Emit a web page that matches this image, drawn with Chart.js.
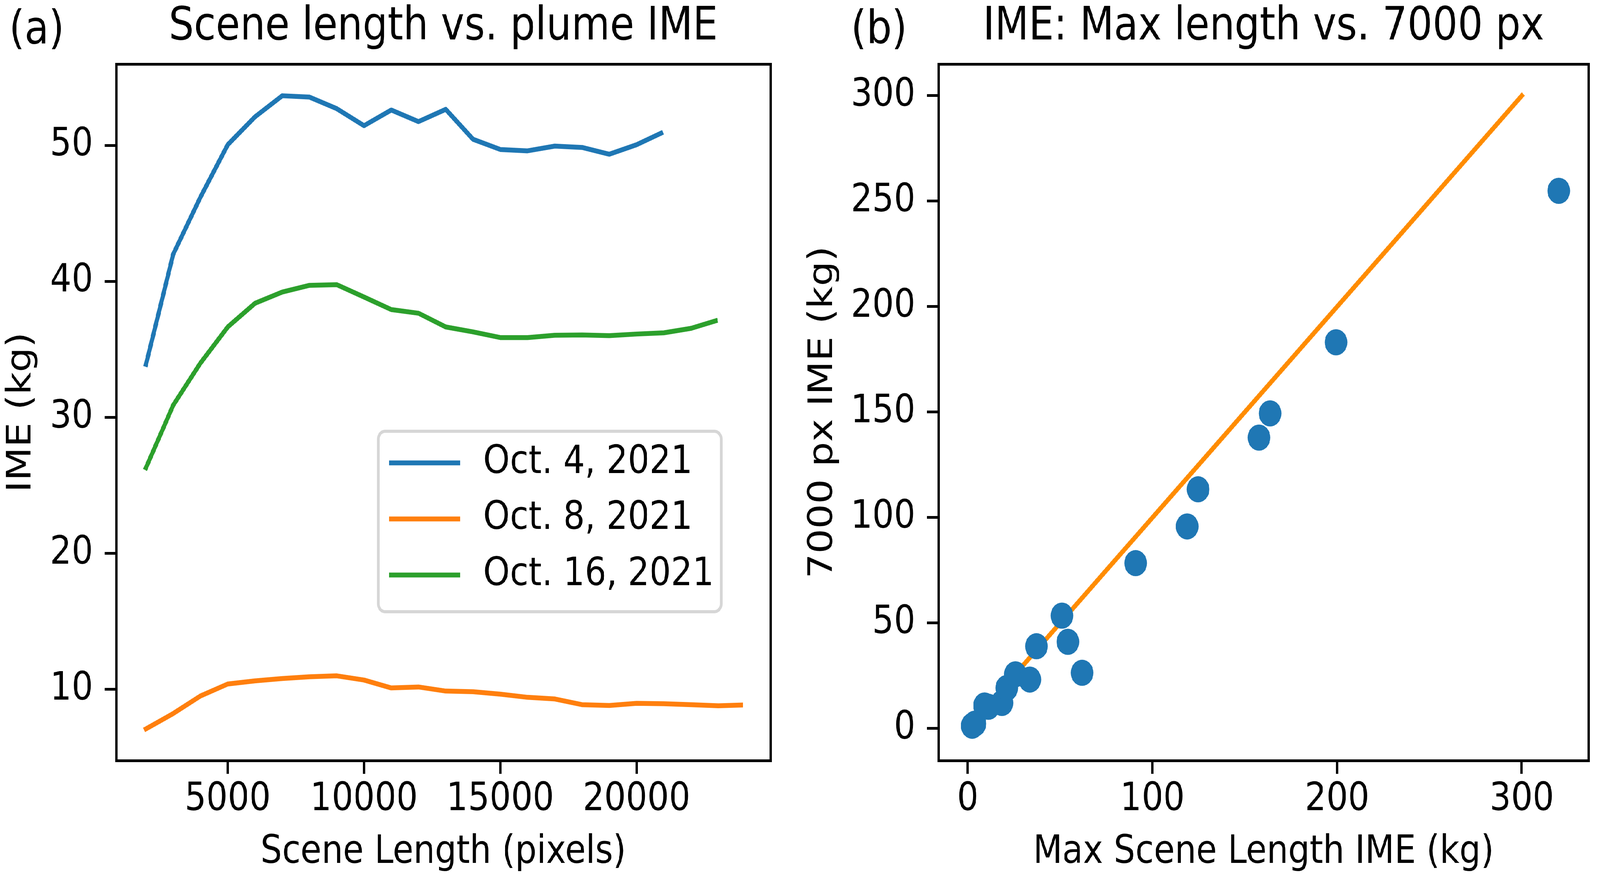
<!DOCTYPE html>
<html>
<head>
<meta charset="utf-8">
<title>Scene length vs. plume IME</title>
<script src="https://cdn.jsdelivr.net/npm/chart.js@4.4.0/dist/chart.umd.min.js"></script>
<style>
html, body { margin: 0; padding: 0; background: #fff; overflow: hidden; }
#wrap { position: relative; width: 4728px; height: 2263px; overflow: hidden; background: #fff; transform-origin: 0 0; }
canvas { position: absolute; top: 0; }
#chartA { left: 0; }
#chartB { left: 2350px; }
</style>
</head>
<body>
<div id="wrap">
    <canvas id="chartA" width="2350" height="2263"></canvas>
    <canvas id="chartB" width="2378" height="2263"></canvas>
</div>
<script>
// (a) scene length sweep, one series per date
const seriesLabels = ['Oct. 4, 2021', 'Oct. 8, 2021', 'Oct. 16, 2021'];

const sceneLenOct4 = [2000, 3000, 4000, 5000, 6000, 7000, 8000, 9000, 10000, 11000,
    12000, 13000, 14000, 15000, 16000, 17000, 18000, 19000, 20000, 20900];
const imeOct4 = [33.9, 42.0, 46.2, 50.05, 52.1, 53.65, 53.55, 52.7, 51.45, 52.6,
    51.75, 52.65, 50.45, 49.7, 49.6, 49.95, 49.85, 49.35, 50.05, 50.9];

const sceneLenOct8 = [2000, 3000, 4000, 5000, 6000, 7000, 8000, 9000, 10000, 11000, 12000,
    13000, 14000, 15000, 16000, 17000, 18000, 19000, 20000, 21000, 22000, 23000, 23830];
const imeOct8 = [7.1, 8.23, 9.52, 10.4, 10.63, 10.8, 10.93, 11.0, 10.69, 10.11, 10.18,
    9.88, 9.83, 9.65, 9.42, 9.3, 8.88, 8.82, 8.98, 8.95, 8.88, 8.8, 8.85];

const sceneLenOct16 = [2000, 3000, 4000, 5000, 6000, 7000, 8000, 9000, 10000, 11000, 12000,
    13000, 14000, 15000, 16000, 17000, 18000, 19000, 20000, 21000, 22000, 22900];
const imeOct16 = [26.3, 30.9, 34.0, 36.65, 38.39, 39.22, 39.71, 39.76, 38.85, 37.93, 37.66,
    36.65, 36.29, 35.87, 35.87, 36.04, 36.06, 36.01, 36.13, 36.22, 36.55, 37.1];

const xTicksA = [5000, 10000, 15000, 20000];
const yTicksA = [10, 20, 30, 40, 50];

// (b) max scene length IME vs 7000 px IME
const maxLenIme = [2.4, 3.9, 9.1, 11.2, 18.5, 21.1, 25.8, 33.6, 37.2, 51.0,
    54.2, 61.9, 90.9, 118.8, 124.7, 157.7, 163.7, 199.4, 320.0];
const px7000Ime = [1.3, 2.3, 10.9, 10.3, 12.1, 19.2, 25.7, 23.2, 39.0, 53.5,
    41.1, 26.4, 78.4, 95.8, 113.4, 137.9, 149.4, 183.1, 254.9];
const oneToOneX = [0, 300];
const oneToOneY = [0, 300];

const xTicksB = [0, 100, 200, 300];
const yTicksB = [0, 50, 100, 150, 200, 250, 300];

const seriesColors = ['#1f77b4', '#ff7f0e', '#2ca02c'];

// the figure is laid out at 4728x2263; stretch it onto whatever window we get
const FIG_W = 4728, FIG_H = 2263;
const wrap = document.getElementById('wrap');
wrap.style.transform = 'scale(' + (window.innerWidth / FIG_W) + ',' + (window.innerHeight / FIG_H) + ')';

Chart.defaults.font.family = "'DejaVu Sans', sans-serif";
Chart.defaults.color = '#000';

const SPINE = 7;
const TICK_LEN = 34;

function points(xs, ys) {
    return xs.map((x, i) => ({ x: x, y: ys[i] }));
}

function lineSet(label, xs, ys, color) {
    return {
        label: label,
        data: points(xs, ys),
        showLine: true,
        borderColor: color,
        backgroundColor: color,
        borderWidth: 12.5,
        borderCapStyle: 'square',
        borderJoinStyle: 'round',
        pointRadius: 0,
        tension: 0
    };
}

// visible axis with outward ticks only
function tickAxis(position, min, max, tickValues, title, size, titlePad) {
    const horizontal = position === 'bottom';
    return {
        type: 'linear',
        position: position,
        min: min,
        max: max,
        afterBuildTicks: (s) => { s.ticks = tickValues.map(v => ({ value: v })); },
        afterFit: (s) => { if (horizontal) { s.height = size; } else { s.width = size; } },
        ticks: {
            font: { size: 100 },
            padding: horizontal ? 7 : 34,
            maxRotation: 0,
            autoSkip: false,
            callback: (v) => String(v)
        },
        grid: {
            display: true, drawOnChartArea: false, drawTicks: true,
            tickLength: TICK_LEN, tickWidth: SPINE, tickColor: '#000', lineWidth: SPINE, color: '#000'
        },
        border: { display: true, color: '#000', width: SPINE },
        title: {
            display: true, text: title,
            font: { size: 100, lineHeight: 1 },
            padding: horizontal ? { top: 0, bottom: titlePad } : { top: titlePad, bottom: 0 }
        }
    };
}

// top / right spines: just a border, no room taken
function frameAxis(position, min, max) {
    const horizontal = position === 'top';
    return {
        type: 'linear',
        position: position,
        min: min,
        max: max,
        afterFit: (s) => { if (horizontal) { s.height = 0; } else { s.width = 0; } },
        ticks: { display: false },
        grid: { display: false, lineWidth: SPINE },
        border: { display: true, color: '#000', width: SPINE }
    };
}

function roundedRect(ctx, x, y, w, h, r) {
    ctx.beginPath();
    ctx.moveTo(x + r, y);
    ctx.arcTo(x + w, y, x + w, y + h, r);
    ctx.arcTo(x + w, y + h, x, y + h, r);
    ctx.arcTo(x, y + h, x, y, r);
    ctx.arcTo(x, y, x + w, y, r);
    ctx.closePath();
}

const panelLabel = {
    id: 'panelLabel',
    afterDraw(chart, args, opts) {
        const ctx = chart.ctx;
        ctx.save();
        ctx.font = "117px 'DejaVu Sans'";
        ctx.fillStyle = '#000';
        ctx.textAlign = 'left';
        ctx.textBaseline = 'alphabetic';
        ctx.fillText(opts.text, opts.x, opts.y);
        ctx.restore();
    }
};

const boxLegend = {
    id: 'boxLegend',
    afterDatasetsDraw(chart, args, opts) {
        if (!opts.show) return;
        const { ctx, chartArea } = chart;
        const left = chartArea.right - opts.right - opts.width;
        const top = chartArea.bottom - opts.bottom - opts.height;
        ctx.save();
        roundedRect(ctx, left, top, opts.width, opts.height, 20);
        ctx.fillStyle = 'rgba(255,255,255,0.8)';
        ctx.fill();
        ctx.lineWidth = 8;
        ctx.strokeStyle = '#d6d6d6';
        ctx.stroke();
        ctx.font = "100px 'DejaVu Sans'";
        ctx.textAlign = 'left';
        ctx.textBaseline = 'middle';
        chart.data.datasets.forEach((ds, i) => {
            const y = top + 81 + i * 143.5;
            ctx.beginPath();
            ctx.moveTo(left + 32, y);
            ctx.lineTo(left + 242, y);
            ctx.strokeStyle = ds.borderColor;
            ctx.lineWidth = 12.5;
            ctx.stroke();
            ctx.fillStyle = '#000';
            ctx.fillText(ds.label, left + 310, y);
        });
        ctx.restore();
    }
};

function baseOptions(padRight, titleText) {
    return {
        responsive: false,
        animation: false,
        devicePixelRatio: 1,
        events: [],
        layout: { padding: { left: 0, right: padRight, top: 0, bottom: 0 } },
        plugins: {
            legend: { display: false },
            tooltip: { enabled: false },
            title: {
                display: true,
                text: titleText,
                fullSize: false,
                color: '#000',
                font: { size: 117, weight: 'normal', lineHeight: 1 },
                padding: { top: 12, bottom: 35 }
            }
        }
    };
}

// panel (a)
const optsA = baseOptions(73, 'Scene length vs. plume IME');
optsA.scales = {
    x: tickAxis('bottom', 903, 24916, xTicksA, 'Scene Length (pixels)', 316, 30),
    y: tickAxis('left', 4.77, 55.98, yTicksA, 'IME (kg)', 343, 14),
    xTop: frameAxis('top', 903, 24916),
    yRight: frameAxis('right', 4.77, 55.98)
};
optsA.plugins.panelLabel = { text: '(a)', x: 27, y: 111 };
optsA.plugins.boxLegend = { show: true, right: 146, bottom: 381, width: 1013, height: 462 };

new Chart(document.getElementById('chartA'), {
    type: 'scatter',
    data: {
        datasets: [
            lineSet(seriesLabels[0], sceneLenOct4, imeOct4, seriesColors[0]),
            lineSet(seriesLabels[1], sceneLenOct8, imeOct8, seriesColors[1]),
            lineSet(seriesLabels[2], sceneLenOct16, imeOct16, seriesColors[2])
        ]
    },
    options: optsA,
    plugins: [panelLabel, boxLegend]
});

// panel (b)
const optsB = baseOptions(22, 'IME: Max length vs. 7000 px');
optsB.scales = {
    x: tickAxis('bottom', -15.9, 336.2, xTicksB, 'Max Scene Length IME (kg)', 316, 30),
    y: tickAxis('left', -15.2, 315, yTicksB, '7000 px IME (kg)', 423, 33),
    xTop: frameAxis('top', -15.9, 336.2),
    yRight: frameAxis('right', -15.2, 315)
};
optsB.plugins.panelLabel = { text: '(b)', x: 165, y: 111 };
optsB.plugins.boxLegend = { show: false };

new Chart(document.getElementById('chartB'), {
    type: 'scatter',
    data: {
        datasets: [
            {
                label: 'IME',
                data: points(maxLenIme, px7000Ime),
                backgroundColor: '#1f77b4',
                borderWidth: 0,
                pointRadius: 33.5
            },
            {
                label: '1:1',
                data: points(oneToOneX, oneToOneY),
                showLine: true,
                borderColor: '#ff8c00',
                borderWidth: 12.5,
                borderCapStyle: 'square',
                pointRadius: 0
            }
        ]
    },
    options: optsB,
    plugins: [panelLabel, boxLegend]
});
</script>
</body>
</html>
